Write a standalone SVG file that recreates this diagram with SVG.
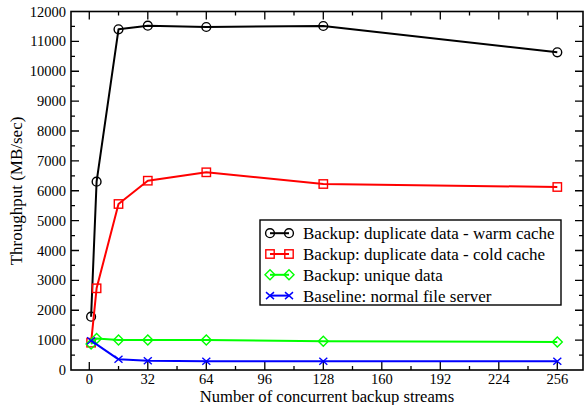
<svg xmlns="http://www.w3.org/2000/svg" xmlns:xlink="http://www.w3.org/1999/xlink" width="586" height="405" viewBox="0 0 586 405">
<style>
text{font-family:"Liberation Serif","Times New Roman",serif;fill:#000}
.tk{font-size:14.5px}
.ttl{font-size:16.6px}
.ytl{font-size:17px}
.lg{font-size:17px}
.frame{fill:none;stroke:#000;stroke-width:1.6}
.ticks{fill:none;stroke:#000;stroke-width:1.3}
.ln{fill:none;stroke-width:2;stroke-linejoin:round}
.mk{fill:none;stroke-width:1.4}
</style>
<defs>
<circle id="mc" r="4.4" class="mk" stroke="#000"/>
<rect id="ms" x="-4.2" y="-4.2" width="8.4" height="8.4" class="mk" stroke="#ff0000"/>
<path id="md" d="M-5,0 L0,-5 L5,0 L0,5 Z" class="mk" stroke="#00ff00"/>
<path id="mx" d="M-4,-3.5 L4,3.5 M-4,3.5 L4,-3.5" class="mk" stroke="#0000ff"/>
</defs>
<rect width="586" height="405" fill="#fff"/>
<g id="axes">
<rect class="frame" x="71" y="11.5" width="512" height="358.5"/>
<path class="ticks" d="M89.29,370v-8M147.8,370v-8M206.3,370v-8M264.8,370v-8M323.3,370v-8M381.8,370v-8M440.3,370v-8M498.8,370v-8M557.3,370v-8
M118.54,370v-4M177.03,370v-4M235.5,370v-4M294,370v-4M352.5,370v-4M411,370v-4M469.5,370v-4M528,370v-4
M89.29,11.5v8M147.8,11.5v8M206.3,11.5v8M264.8,11.5v8M323.3,11.5v8M381.8,11.5v8M440.3,11.5v8M498.8,11.5v8M557.3,11.5v8
M118.54,11.5v4M177.03,11.5v4M235.5,11.5v4M294,11.5v4M352.5,11.5v4M411,11.5v4M469.5,11.5v4M528,11.5v4
M71,340.13h8M71,310.25h8M71,280.38h8M71,250.5h8M71,220.63h8M71,190.75h8M71,160.88h8M71,131h8M71,101.13h8M71,71.25h8M71,41.38h8
M71,355.06h4M71,325.19h4M71,295.31h4M71,265.44h4M71,235.56h4M71,205.69h4M71,175.81h4M71,145.94h4M71,116.06h4M71,86.19h4M71,56.31h4M71,26.44h4
M583,340.13h-8M583,310.25h-8M583,280.38h-8M583,250.5h-8M583,220.63h-8M583,190.75h-8M583,160.88h-8M583,131h-8M583,101.13h-8M583,71.25h-8M583,41.38h-8
M583,355.06h-4M583,325.19h-4M583,295.31h-4M583,265.44h-4M583,235.56h-4M583,205.69h-4M583,175.81h-4M583,145.94h-4M583,116.06h-4M583,86.19h-4M583,56.31h-4M583,26.44h-4"/>
<g class="tk" text-anchor="end">
<text x="66" y="375">0</text>
<text x="66" y="345.1">1000</text>
<text x="66" y="315.3">2000</text>
<text x="66" y="285.4">3000</text>
<text x="66" y="255.5">4000</text>
<text x="66" y="225.6">5000</text>
<text x="66" y="195.8">6000</text>
<text x="66" y="165.9">7000</text>
<text x="66" y="136">8000</text>
<text x="66" y="106.1">9000</text>
<text x="66" y="76.3">10000</text>
<text x="66" y="46.4">11000</text>
<text x="66" y="16.5">12000</text>
</g>
<g class="tk" text-anchor="middle">
<text x="89.29" y="384">0</text>
<text x="147.8" y="384">32</text>
<text x="206.3" y="384">64</text>
<text x="264.8" y="384">96</text>
<text x="323.3" y="384">128</text>
<text x="381.8" y="384">160</text>
<text x="440.3" y="384">192</text>
<text x="498.8" y="384">224</text>
<text x="557.3" y="384">256</text>
</g>
<text class="ttl" x="327" y="402" text-anchor="middle">Number of concurrent backup streams</text>
<text class="ytl" transform="translate(22,191) rotate(-90)" text-anchor="middle">Throughput (MB/sec)</text>
</g>
<g id="series-warm">
<polyline class="ln" stroke="#000" points="91.1,316.7 96.6,181.7 118.5,29.3 147.8,25.7 206.3,27 323.3,26 557.3,52.3"/>
<use xlink:href="#mc" x="91.1" y="316.7"/><use xlink:href="#mc" x="96.6" y="181.7"/><use xlink:href="#mc" x="118.5" y="29.3"/><use xlink:href="#mc" x="147.8" y="25.7"/><use xlink:href="#mc" x="206.3" y="27"/><use xlink:href="#mc" x="323.3" y="26"/><use xlink:href="#mc" x="557.3" y="52.3"/>
</g>
<g id="series-cold">
<polyline class="ln" stroke="#ff0000" points="91.1,342.7 96.6,288.3 118.5,204 147.8,180.7 206.3,172.3 323.3,184 557.3,187"/>
<use xlink:href="#ms" x="91.1" y="342.7"/><use xlink:href="#ms" x="96.6" y="288.3"/><use xlink:href="#ms" x="118.5" y="204"/><use xlink:href="#ms" x="147.8" y="180.7"/><use xlink:href="#ms" x="206.3" y="172.3"/><use xlink:href="#ms" x="323.3" y="184"/><use xlink:href="#ms" x="557.3" y="187"/>
</g>
<g id="series-unique">
<polyline class="ln" stroke="#00ff00" points="91.1,344 96.6,338.5 118.5,340 147.8,340 206.3,340 323.3,341.3 557.3,342"/>
<use xlink:href="#md" x="91.1" y="344"/><use xlink:href="#md" x="96.6" y="338.5"/><use xlink:href="#md" x="118.5" y="340"/><use xlink:href="#md" x="147.8" y="340"/><use xlink:href="#md" x="206.3" y="340"/><use xlink:href="#md" x="323.3" y="341.3"/><use xlink:href="#md" x="557.3" y="342"/>
</g>
<g id="series-baseline">
<polyline class="ln" stroke="#0000ff" points="91.1,340.7 118.5,359.3 147.8,360.7 206.3,361.3 323.3,361.3 557.3,361.3"/>
<use xlink:href="#mx" x="91.1" y="340.7"/><use xlink:href="#mx" x="118.5" y="359.3"/><use xlink:href="#mx" x="147.8" y="360.7"/><use xlink:href="#mx" x="206.3" y="361.3"/><use xlink:href="#mx" x="323.3" y="361.3"/><use xlink:href="#mx" x="557.3" y="361.3"/>
</g>
<g id="legend">
<rect x="260" y="220" width="301" height="85" fill="#fff" stroke="#000" stroke-width="1.4"/>
<line class="ln" stroke="#000" x1="270" y1="233.2" x2="289" y2="233.2"/><use xlink:href="#mc" x="270" y="233.2"/><use xlink:href="#mc" x="289" y="233.2"/>
<text class="lg" x="303" y="239.2">Backup: duplicate data - warm cache</text>
<line class="ln" stroke="#ff0000" x1="270" y1="254" x2="289" y2="254"/><use xlink:href="#ms" x="270" y="254"/><use xlink:href="#ms" x="289" y="254"/>
<text class="lg" x="303" y="260">Backup: duplicate data - cold cache</text>
<line class="ln" stroke="#00ff00" x1="270" y1="274.8" x2="289" y2="274.8"/><use xlink:href="#md" x="270" y="274.8"/><use xlink:href="#md" x="289" y="274.8"/>
<text class="lg" x="303" y="280.8">Backup: unique data</text>
<line class="ln" stroke="#0000ff" x1="270" y1="295.6" x2="289" y2="295.6"/><use xlink:href="#mx" x="270" y="295.6"/><use xlink:href="#mx" x="289" y="295.6"/>
<text class="lg" x="303" y="301.6">Baseline: normal file server</text>
</g>
</svg>
